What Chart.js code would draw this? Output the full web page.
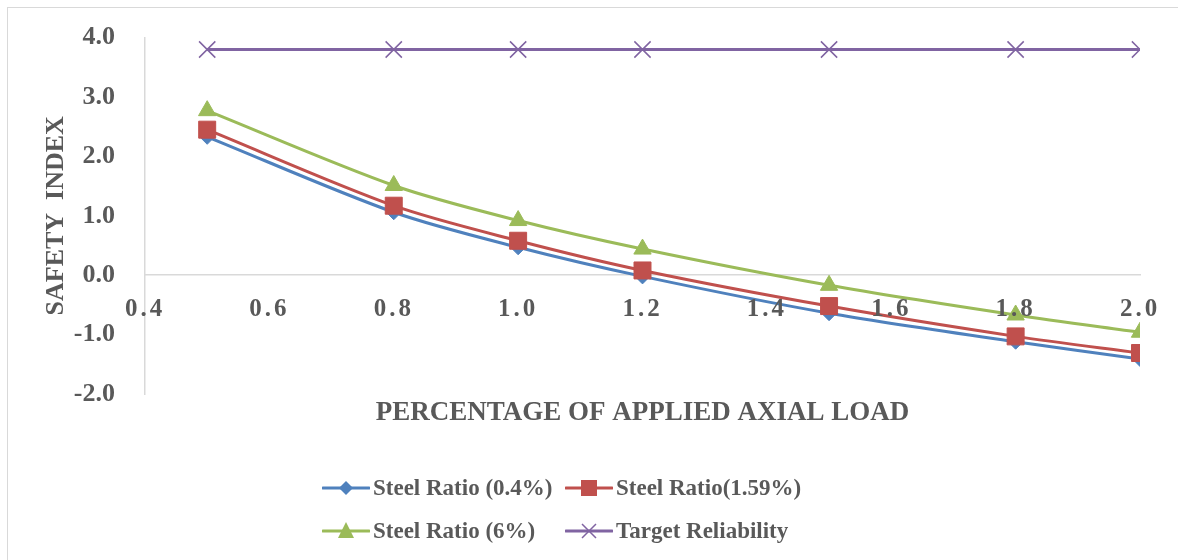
<!DOCTYPE html>
<html>
<head>
<meta charset="utf-8">
<script src="https://cdn.jsdelivr.net/npm/chart.js@4/dist/chart.umd.min.js"></script>
<style>
  html, body { margin: 0; padding: 0; background: #fff; overflow: hidden; }
  #frame { position: absolute; left: 7px; top: 7px; width: 1190px; height: 570px; border: 1px solid #d9d9d9; }
  #wrap { position: absolute; left: 0; top: 0; width: 1178px; height: 560px; }
  #legend { position: absolute; left: 322px; top: 466px; width: 600px;
    font-family: "Liberation Serif", "Times New Roman", serif; font-weight: bold; font-size: 23px; color: #595959; }
  .row { display: flex; height: 43px; align-items: center; }
  .item { display: flex; align-items: center; width: 243px; }
  .item svg { margin-right: 3px; }
</style>
</head>
<body>
<div id="frame"></div>
<div id="wrap"><canvas id="chart"></canvas></div>
<div id="legend"></div>
<script>
// donnees
let load = [0.5, 0.8, 1.0, 1.2, 1.5, 1.8, 2.0]
let ratio04 = [2.33, 1.06, 0.47, -0.02, -0.64, -1.12, -1.41]
let ratio159 = [2.45, 1.17, 0.58, 0.08, -0.52, -1.03, -1.31]
let ratio6 = [2.77, 1.51, 0.92, 0.44, -0.17, -0.67, -0.96]
let target = [3.8, 3.8, 3.8, 3.8, 3.8, 3.8, 3.8]
let seriesNames = ['Steel Ratio (0.4%)', 'Steel Ratio(1.59%)', 'Steel Ratio (6%)', 'Target Reliability']

let grey = '#595959'
let font = '"Liberation Serif", "Times New Roman", serif'

function pts(values) {
  return load.map((x, i) => ({ x: x, y: values[i] }))
}

let series = [
  { data: ratio04, color: '#4F81BD', style: 'rectRot', r: 7.5, tension: 0.3 },
  { data: ratio159, color: '#C0504D', style: 'rect', r: 12, tension: 0.3 },
  { data: ratio6, color: '#9BBB59', style: 'triangle', r: 10, tension: 0.3 },
  { data: target, color: '#8064A2', style: 'crossRot', r: 11.5, tension: 0 }
]

let datasets = series.map((s, i) => ({
  label: seriesNames[i],
  data: pts(s.data),
  borderColor: s.color,
  backgroundColor: s.color,
  borderWidth: 3,
  tension: s.tension,
  pointStyle: s.style,
  pointRadius: s.r,
  pointBorderWidth: s.style == 'crossRot' ? 1.5 : 1,
  pointBorderColor: s.color,
  pointBackgroundColor: s.color,
  order: 4 - i
}))

// espacement des lettres pour les graduations x (dessinees apres les courbes)
let spacing = {
  id: 'spacing',
  afterDatasetsDraw(chart) { chart.ctx.letterSpacing = '3px' },
  afterDraw(chart) { chart.ctx.letterSpacing = '0px' }
}

new Chart(document.getElementById('chart'), {
  type: 'line',
  data: { datasets: datasets },
  plugins: [spacing],
  options: {
    responsive: true,
    maintainAspectRatio: false,
    animation: false,
    layout: { padding: { left: 0, top: 37, right: 38, bottom: 131 } },
    plugins: { legend: { display: false }, tooltip: { enabled: false } },
    scales: {
      x: {
        type: 'linear',
        position: { y: 0 },
        min: 0.4, max: 2.0,
        grid: { display: false },
        border: { display: true, color: '#d9d9d9', width: 1.5 },
        ticks: {
          stepSize: 0.2, autoSkip: false, maxRotation: 0, padding: 11, z: 1,
          color: grey, font: { family: font, size: 25, weight: 'bold' },
          callback: v => v.toFixed(1)
        }
      },
      x2: {
        type: 'linear',
        axis: 'x',
        position: 'bottom',
        min: 0.4, max: 2.0,
        grid: { display: false },
        border: { display: false },
        ticks: { display: false },
        title: {
          display: true, text: 'PERCENTAGE OF APPLIED AXIAL LOAD', padding: 0,
          color: grey, font: { family: font, size: 27, weight: 'bold' }
        },
        afterFit: s => { s.height = 35 }
      },
      y: {
        min: -2, max: 4,
        grid: { display: false },
        border: { display: true, color: '#d9d9d9', width: 1.5 },
        ticks: {
          stepSize: 1, padding: 22,
          color: grey, font: { family: font, size: 26, weight: 'bold' },
          callback: v => v.toFixed(1)
        },
        title: {
          display: true, text: 'SAFETY  INDEX', padding: { top: 41, bottom: 0 },
          color: grey, font: { family: font, size: 26, weight: 'bold' }
        },
        afterFit: s => { s.width = 145 }
      }
    }
  }
})

// legende faite a la main, 2 colonnes
function marker(s) {
  let c = s.color
  if (s.style == 'rectRot') return `<polygon points="24,3 31,10 24,17 17,10" fill="${c}"/>`
  if (s.style == 'rect') return `<rect x="16" y="2" width="16" height="16" fill="${c}"/>`
  if (s.style == 'triangle') return `<polygon points="24,1 32,17 16,17" fill="${c}"/>`
  return `<path d="M17,3 L31,17 M31,3 L17,17" stroke="${c}" stroke-width="1.5"/>`
}
let html = ''
for (let r = 0; r < 2; r++) {
  html += '<div class="row">'
  for (let k = 0; k < 2; k++) {
    let i = r * 2 + k
    let s = series[i]
    html += `<div class="item"><svg width="48" height="20"><line x1="1" y1="10" x2="47" y2="10" stroke="${s.color}" stroke-width="3" stroke-linecap="round"/>${marker(s)}</svg><span>${seriesNames[i]}</span></div>`
  }
  html += '</div>'
}
document.getElementById('legend').innerHTML = html
</script>
</body>
</html>
